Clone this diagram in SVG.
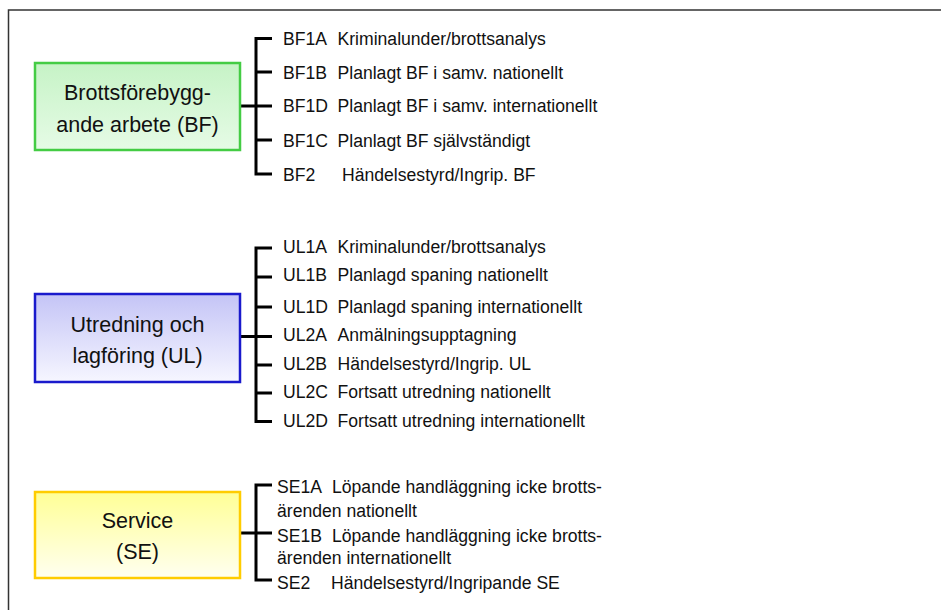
<svg xmlns="http://www.w3.org/2000/svg" width="941" height="610" viewBox="0 0 941 610">
<defs>
<linearGradient id="gBF" x1="0" y1="0" x2="0" y2="1"><stop offset="0" stop-color="#c6f3c6"/><stop offset="1" stop-color="#e6fbe6"/></linearGradient>
<linearGradient id="gUL" x1="0" y1="0" x2="0" y2="1"><stop offset="0" stop-color="#c4c4f6"/><stop offset="1" stop-color="#f6f6ff"/></linearGradient>
<linearGradient id="gSE" x1="0" y1="0" x2="0" y2="1"><stop offset="0" stop-color="#ffff96"/><stop offset="1" stop-color="#fffff0"/></linearGradient>
</defs>
<style>
.box{stroke-width:2.5}
.bt{font-family:"Liberation Sans",Arial,sans-serif;font-size:21.5px;fill:#111;text-anchor:middle}
.it{font-family:"Liberation Sans",Arial,sans-serif;font-size:17.6px;fill:#111}
.ln{fill:none;stroke:#000;stroke-width:3}
</style>
<rect x="8.5" y="10" width="940" height="610" fill="#fff" stroke="#333" stroke-width="1.5"/>
<g id="connectors">
<path class="ln" d="M240,106 H256 M272,38.5 H256 V174 H272 M256,72 H272 M256,106 H272 M256,140 H272"/>
<path class="ln" d="M240,336.5 H256 M272,248 H256 V421.5 H272 M256,277 H272 M256,307 H272 M256,336.5 H272 M256,365 H272 M256,393 H272"/>
<path class="ln" d="M240,533 H256 M272,485 H256 V580 H272 M256,533 H272"/>
</g>
<g id="BF">
<rect class="box" x="35" y="63" width="205" height="87" fill="url(#gBF)" stroke="#44cc44"/>
<text class="bt" x="137.5" y="100">Brottsförebygg-</text>
<text class="bt" x="137.5" y="132">ande arbete (BF)</text>
</g>
<g id="BF-items">
<text class="it" y="45"><tspan x="283">BF1A</tspan><tspan x="337.5">Kriminalunder/brottsanalys</tspan></text>
<text class="it" y="79"><tspan x="283">BF1B</tspan><tspan x="337.5">Planlagt BF i samv. nationellt</tspan></text>
<text class="it" y="112"><tspan x="283">BF1D</tspan><tspan x="337.5">Planlagt BF i samv. internationellt</tspan></text>
<text class="it" y="146.5"><tspan x="283">BF1C</tspan><tspan x="337.5">Planlagt BF självständigt</tspan></text>
<text class="it" y="181"><tspan x="283">BF2</tspan><tspan x="342">Händelsestyrd/Ingrip. BF</tspan></text>
</g>
<g id="UL">
<rect class="box" x="35" y="294" width="205" height="88" fill="url(#gUL)" stroke="#1a1acc"/>
<text class="bt" x="137.5" y="332">Utredning och</text>
<text class="bt" x="137.5" y="363">lagföring (UL)</text>
</g>
<g id="UL-items">
<text class="it" y="253"><tspan x="283">UL1A</tspan><tspan x="337.5">Kriminalunder/brottsanalys</tspan></text>
<text class="it" y="281"><tspan x="283">UL1B</tspan><tspan x="337.5">Planlagd spaning nationellt</tspan></text>
<text class="it" y="313"><tspan x="283">UL1D</tspan><tspan x="337.5">Planlagd spaning internationellt</tspan></text>
<text class="it" y="341"><tspan x="283">UL2A</tspan><tspan x="337.5">Anmälningsupptagning</tspan></text>
<text class="it" y="369.5"><tspan x="283">UL2B</tspan><tspan x="337.5">Händelsestyrd/Ingrip. UL</tspan></text>
<text class="it" y="398"><tspan x="283">UL2C</tspan><tspan x="337.5">Fortsatt utredning nationellt</tspan></text>
<text class="it" y="427"><tspan x="283">UL2D</tspan><tspan x="337.5">Fortsatt utredning internationellt</tspan></text>
</g>
<g id="SE">
<rect class="box" x="35" y="492" width="205" height="86" fill="url(#gSE)" stroke="#ffcc00"/>
<text class="bt" x="137.5" y="528">Service</text>
<text class="bt" x="137.5" y="559">(SE)</text>
</g>
<g id="SE-items">
<text class="it" y="493"><tspan x="277">SE1A</tspan><tspan x="332">Löpande handläggning icke brotts-</tspan></text>
<text class="it" x="277" y="517">ärenden nationellt</text>
<text class="it" y="541.5"><tspan x="277">SE1B</tspan><tspan x="332">Löpande handläggning icke brotts-</tspan></text>
<text class="it" x="277" y="564">ärenden internationellt</text>
<text class="it" y="589"><tspan x="277">SE2</tspan><tspan x="331">Händelsestyrd/Ingripande SE</tspan></text>
</g>
</svg>
